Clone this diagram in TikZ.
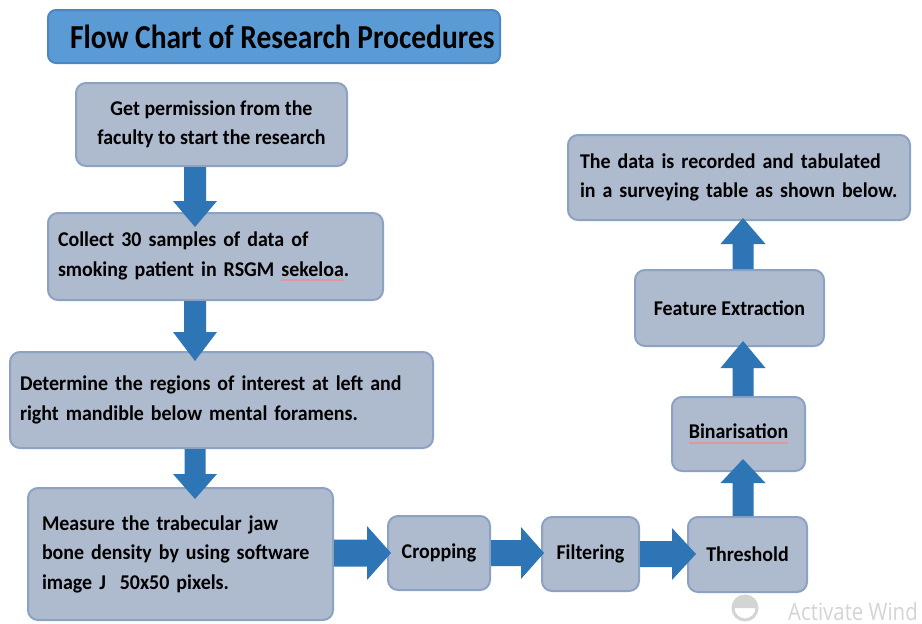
\documentclass[tikz,border=0pt]{standalone}
\usepackage{fontspec}
\setmainfont[FakeStretch=0.95]{Carlito}
\newfontfamily\titlefont[FakeStretch=0.88]{Carlito}
\newfontfamily\wmfont[FakeStretch=0.85]{Open Sans}
\usetikzlibrary{calc}
\definecolor{boxfill}{RGB}{174,186,205}
\definecolor{boxline}{RGB}{140,162,196}
\definecolor{titlefill}{RGB}{91,155,213}
\definecolor{titleline}{RGB}{74,134,196}
\definecolor{arrowc}{RGB}{46,117,182}
\definecolor{squigc}{RGB}{226,150,160}
\definecolor{wmgray}{RGB}{212,212,212}
\newcommand\squig[1]{\setbox0\hbox{#1}\rlap{\textcolor{squigc}{\rule[-5pt]{\wd0}{2pt}}}\box0}
\newcommand\bodyfont{\bfseries\fontsize{21}{29.5}\selectfont\hyphenpenalty=10000\exhyphenpenalty=10000}
% #1 start, #2 tip, #3 shaft half width, #4 head half width, #5 head length
\newcommand\blockarrow[5]{%
  \coordinate (bah) at ($(#2)!#5!(#1)$);
  \fill[arrowc] ($(#1)!#3!90:(#2)$) -- ($(bah)!#3!90:(#2)$) -- ($(bah)!#4!90:(#2)$) -- (#2)
    -- ($(bah)!#4!-90:(#2)$) -- ($(bah)!#3!-90:(#2)$) -- ($(#1)!#3!-90:(#2)$) -- cycle;}
\tikzset{
  box/.style={draw=boxline, line width=2pt, fill=boxfill, rounded corners=10pt,
    font=\bodyfont, inner sep=0pt, anchor=center},
  titlebox/.style={draw=titleline, line width=2pt, fill=titlefill, rounded corners=8pt,
    inner sep=0pt, font=\titlefont\bfseries\fontsize{33.5}{36}\selectfont},
}
\begin{document}
\begin{tikzpicture}[x=1pt, y=-1pt]
\useasboundingbox (0,0) rectangle (922,624);
\fill[white] (0,0) rectangle (922,624);

\node[titlebox, minimum width=452pt, minimum height=53pt] (title) at (274,36.5)
  {\hspace*{22pt}\makebox[430pt][l]{Flow Chart of Research Procedures}};

\node[box, minimum width=271pt, minimum height=83pt, align=center] (b1) at (211.5,124.5)
  {Get permission from the\\faculty to start the research};
\node[box, text width=315pt, inner xsep=10pt, minimum height=87pt, align=left] (b2) at (215.5,256.5)
  {\mbox{Collect 30 samples of data of}\\\mbox{smoking patient in RSGM \squig{sekeloa}.}};
\node[box, text width=403pt, inner xsep=10pt, minimum height=96pt, align=left] (b3) at (221.5,400)
  {\mbox{Determine the regions of interest at left and}\\\mbox{right mandible below mental foramens.}};
\node[box, text width=277pt, inner xsep=14pt, minimum height=132pt, align=left] (b4) at (180.5,554)
  {\mbox{Measure the trabecular jaw}\\\mbox{bone density by using software}\\\mbox{image J\ \ 50x50 pixels.}};
\node[box, minimum width=102pt, minimum height=74pt] (crop) at (439,553) {Cropping};
\node[box, minimum width=97pt, minimum height=74pt] (filt) at (590.5,554) {Filtering};
\node[box, minimum width=119pt, minimum height=75pt] (thr) at (747.5,554.5) {Threshold};
\node[box, minimum width=133pt, minimum height=74pt] (bin) at (738.5,434) {\squig{Binarisation}};
\node[box, minimum width=189pt, minimum height=76pt] (feat) at (729.5,308) {Feature Extraction};
\node[box, text width=318pt, inner xsep=12pt, minimum height=85pt, align=left] (top) at (739,177.5)
  {\mbox{The data is recorded and tabulated}\\\mbox{in a surveying table as shown below.}};

% vertical down arrows
\coordinate (a1s) at ($(b1.south)+(-16.5,0)$);
\coordinate (a1e) at ($(b2.north)+(-20.5,15)$);
\blockarrow{a1s}{a1e}{11pt}{22pt}{26pt}
\coordinate (a2s) at ($(b2.south)+(-20.5,0)$);
\coordinate (a2e) at ($(b3.north)+(-26.5,10)$);
\blockarrow{a2s}{a2e}{11pt}{22pt}{29pt}
\coordinate (a3s) at ($(b3.south)+(-26.5,0)$);
\coordinate (a3e) at ($(b4.north)+(14.5,12)$);
\blockarrow{a3s}{a3e}{10.5pt}{22pt}{25pt}

% horizontal arrows
\coordinate (h1s) at (crop.west -| b4.east);
\coordinate (h1e) at ($(crop.west)+(4,0)$);
\blockarrow{h1s}{h1e}{13.5pt}{27pt}{24pt}
\coordinate (h2s) at (crop.east);
\coordinate (h2e) at ($(filt.west |- crop.east)+(3,0)$);
\blockarrow{h2s}{h2e}{13pt}{26pt}{23pt}
\coordinate (h3s) at (filt.east);
\coordinate (h3e) at ($(thr.west |- filt.east)+(9,0)$);
\blockarrow{h3s}{h3e}{13pt}{26pt}{24pt}

% vertical up arrows
\coordinate (u1s) at ($(thr.north)+(-4.5,0)$);
\coordinate (u1e) at ($(bin.south)+(4.5,-13)$);
\blockarrow{u1s}{u1e}{10.5pt}{22.5pt}{24pt}
\coordinate (u2s) at ($(bin.north)+(4.5,0)$);
\coordinate (u2e) at ($(feat.south)+(13.5,-6)$);
\blockarrow{u2s}{u2e}{10.5pt}{22.5pt}{27pt}
\coordinate (u3s) at ($(feat.north)+(13.5,0)$);
\coordinate (u3e) at ($(top.south)+(4,-3)$);
\blockarrow{u3s}{u3e}{10.5pt}{22.5pt}{26pt}

% watermark
\draw[wmgray, line width=3pt] (745,608) circle (12);
\fill[wmgray] (733,608) arc (180:360:12) -- cycle;
\node[anchor=base west, inner sep=0pt, text=wmgray, font=\wmfont\fontsize{24}{26}\selectfont] (wm) at (788,620) {Activate Wind};
\end{tikzpicture}
\end{document}
